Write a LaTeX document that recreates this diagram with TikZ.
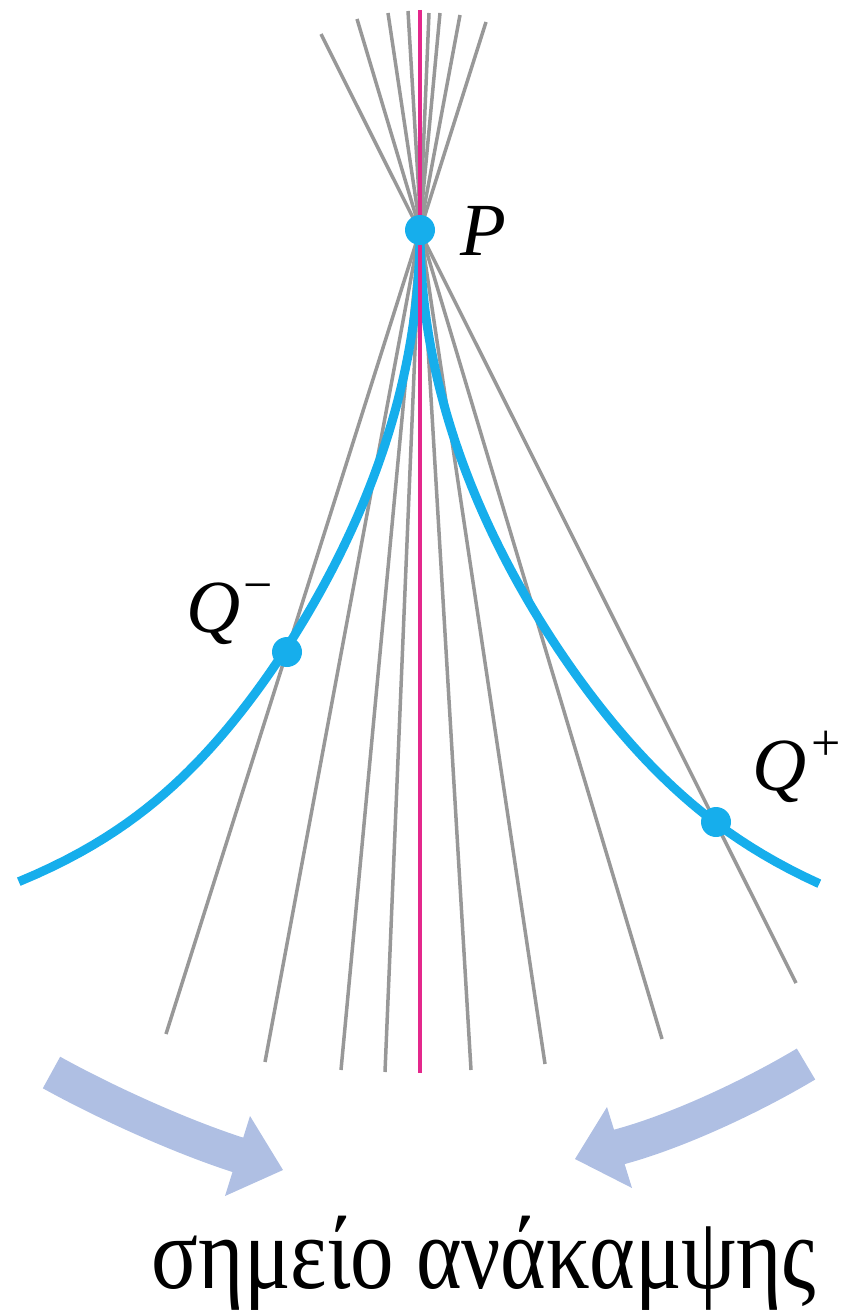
\documentclass[tikz,border=0pt]{standalone}
\usepackage{fontspec}
\setmainfont{Liberation Serif}
\definecolor{cuspblue}{RGB}{22,174,236}
\definecolor{axismag}{RGB}{228,40,140}
\definecolor{lgray}{RGB}{152,152,152}
\definecolor{arrowfill}{RGB}{175,191,227}
\begin{document}
\begin{tikzpicture}[x=1pt,y=-1pt,
  grayline/.style={draw=lgray,line width=3.5pt},
  magline/.style={draw=axismag,line width=3.5pt},
  cuspcurve/.style={draw=cuspblue,line width=9pt},
  dot/.style={circle,fill=cuspblue,inner sep=0pt,minimum size=30pt},
  lbl/.style={font=\fontsize{75}{75}\selectfont\itshape,inner sep=0pt},
  arrowshaft/.style={draw=arrowfill,line width=36pt,line cap=butt},
  arrowhead/.style={fill=arrowfill}]
\useasboundingbox (0,0) rectangle (845,1311);
% gray tangent lines
\foreach \n/\tx/\ty/\bx/\by in {1/321/34/796/983, 2/357/19/662/1039, 3/388/13/545/1064, 4/408/11/471/1070, 5/429/13/385/1072, 6/440/13/341/1070, 7/460/15/265/1062, 8/486/22/166/1034}{
  \coordinate (t\n) at (\tx,\ty);
  \coordinate (b\n) at (\bx,\by);
  \draw[grayline] (t\n) -- (b\n);
}
% cusp curve
\draw[cuspcurve] plot[domain=0:1,samples=90,variable=\u] ({420+336*\u*\u+64*\u^12},{230+654*\u});
\draw[cuspcurve] plot[domain=0:1,samples=90,variable=\u] ({420-324*\u*\u-78*\u^12},{230+652*\u});
% magenta axis
\coordinate (mtop) at (420,10);
\coordinate (mbot) at (420,1073);
\draw[magline] (mtop) -- (mbot);
% points
\node[dot] (P) at (420,230) {};
\node[dot] (Qm) at (287,652) {};
\node[dot] (Qp) at (716,822) {};
% labels
\node[lbl,anchor=base west] (Plab) at (460,255) {P};
\node[lbl,anchor=base west] (Qmlab) at (186,632) {Q\kern3pt\raisebox{30pt}{\fontsize{52}{52}\selectfont\upshape −}};
\node[lbl,anchor=base west] (Qplab) at (752,790) {Q\kern5pt\raisebox{30pt}{\fontsize{52}{52}\selectfont\upshape +}};
% left arrow
\coordinate (la0) at (51.5,1072.5);
\coordinate (la1) at (104,1101.6);
\coordinate (la2) at (180,1136.4);
\coordinate (la3) at (240,1155.5);
\draw[arrowshaft] (la0) .. controls (la1) and (la2) .. (la3);
\coordinate (lhA) at (250,1116);
\coordinate (lhB) at (225,1196);
\coordinate (lhT) at (283,1170);
\fill[arrowhead] (lhA) -- (lhT) -- (lhB) -- cycle;
% right arrow
\coordinate (ra0) at (806,1064);
\coordinate (ra1) at (754.6,1094.8);
\coordinate (ra2) at (678,1131.4);
\coordinate (ra3) at (617,1147.5);
\draw[arrowshaft] (ra0) .. controls (ra1) and (ra2) .. (ra3);
\coordinate (rhA) at (607,1107);
\coordinate (rhB) at (632,1188);
\coordinate (rhT) at (575,1159);
\fill[arrowhead] (rhA) -- (rhT) -- (rhB) -- cycle;
% caption
\node[anchor=base,inner sep=0pt] (cap) at (484,1288) {\scalebox{1}[1.18]{\fontsize{87}{87}\selectfont σημείο ανάκαμψης}};
\end{tikzpicture}
\end{document}
